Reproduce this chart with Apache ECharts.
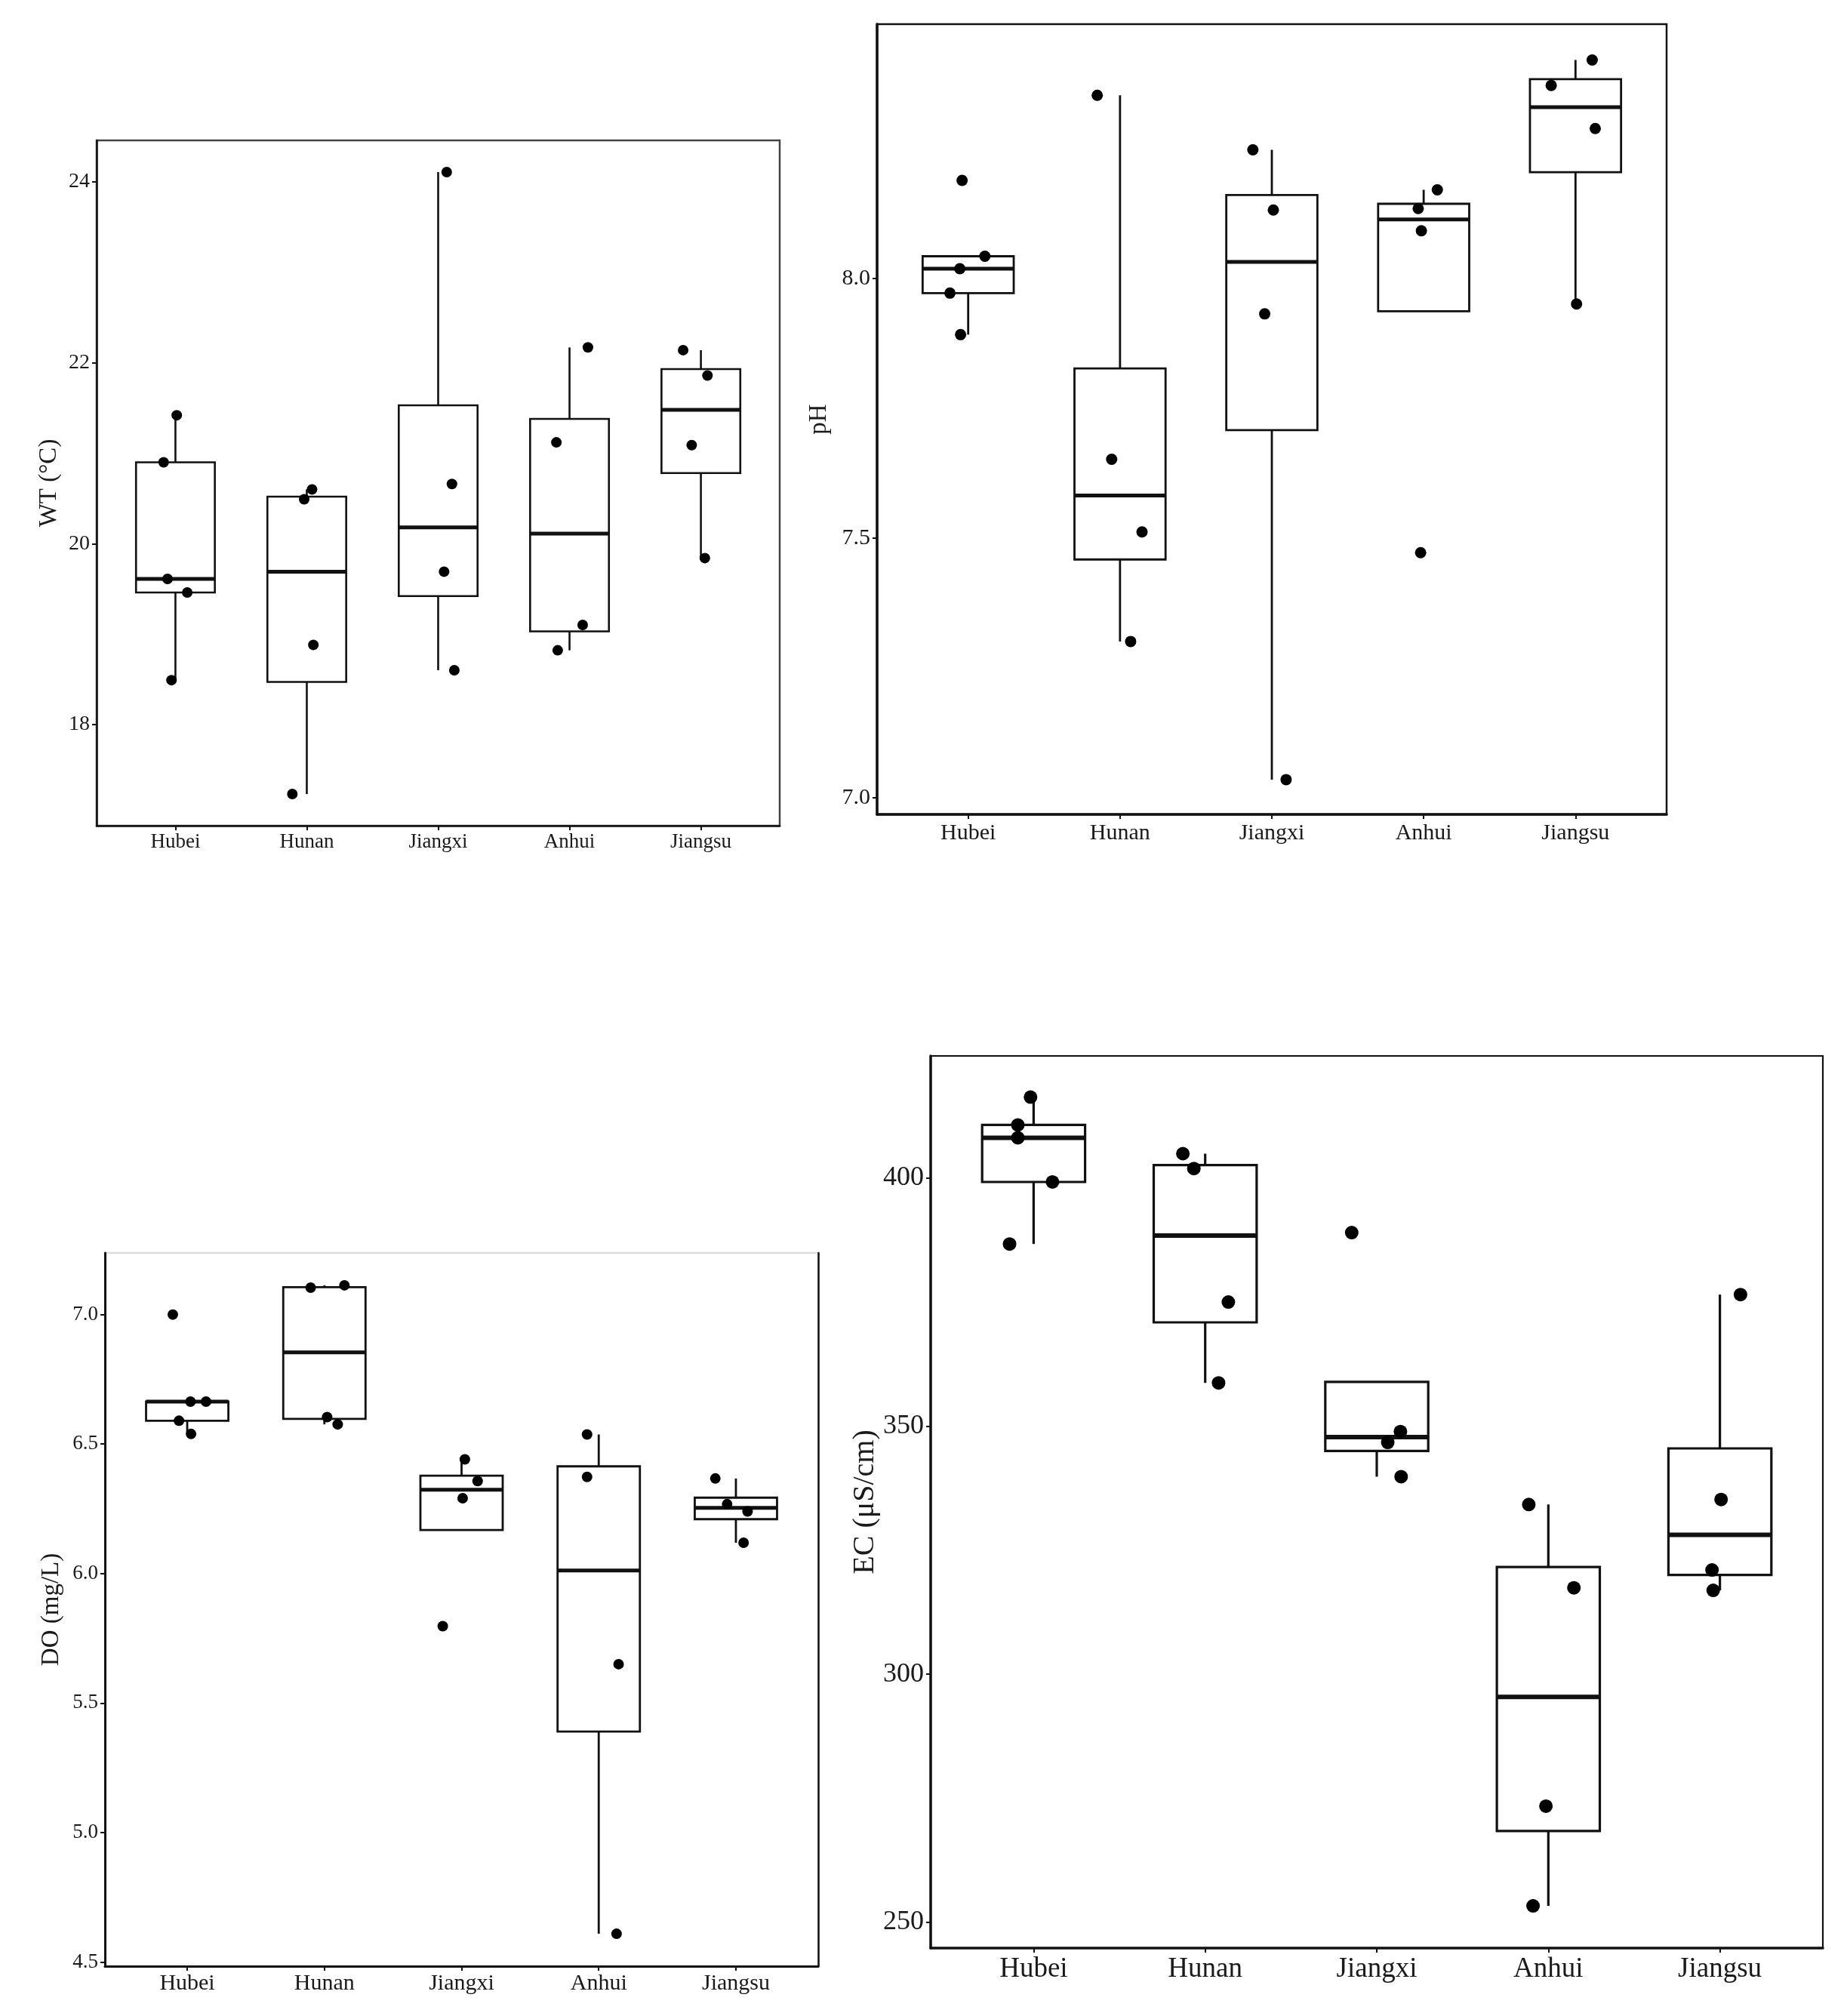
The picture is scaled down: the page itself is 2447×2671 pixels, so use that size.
<!DOCTYPE html>
<html lang="en">
<head>
<meta charset="utf-8">
<title>WT, pH, DO and EC by province</title>
<style>
  html, body { margin: 0; background: #fff; }
  #chart { width: 2447px; height: 2671px; }
</style>
</head>
<body>
<div id="chart"></div>
<script src="https://cdn.jsdelivr.net/npm/echarts@6/dist/echarts.min.js"></script>
<script>
const regions = ['Hubei', 'Hunan', 'Jiangxi', 'Anhui', 'Jiangsu'];

// box stats per province: [lower whisker, Q1, median, Q3, upper whisker]
const wtBox = [
  [18.49, 19.46, 19.61, 20.90, 21.42],
  [17.23, 18.47, 19.69, 20.52, 20.60],
  [18.60, 19.42, 20.18, 21.53, 24.11],
  [18.82, 19.03, 20.11, 21.38, 22.17],
  [19.84, 20.78, 21.48, 21.93, 22.14]
];
const wtPoints = [
  [21.42, 20.90, 19.61, 19.46, 18.49],
  [20.60, 20.49, 18.88, 17.23],
  [24.11, 20.66, 19.69, 18.60],
  [22.17, 21.12, 19.10, 18.82],
  [22.14, 21.86, 21.09, 19.84]
];
const wtJitter = [
  [0.01, -0.09, -0.06, 0.09, -0.03],
  [0.04, -0.02, 0.05, -0.11],
  [0.065, 0.105, 0.045, 0.123],
  [0.14, -0.10, 0.10, -0.09],
  [-0.135, 0.05, -0.07, 0.03]
];

const phBox = [
  [7.892, 7.972, 8.019, 8.043, 8.043],
  [7.301, 7.459, 7.582, 7.827, 8.353],
  [7.035, 7.708, 8.032, 8.161, 8.248],
  [7.937, 7.937, 8.114, 8.144, 8.171],
  [7.951, 8.205, 8.330, 8.384, 8.421]
];
const phPoints = [
  [8.189, 8.043, 8.019, 7.972, 7.892],
  [8.353, 7.652, 7.512, 7.301],
  [8.248, 8.132, 7.932, 7.035],
  [8.171, 8.135, 8.092, 7.472],
  [8.421, 8.372, 8.289, 7.951]
];
const phJitter = [
  [-0.04, 0.11, -0.055, -0.12, -0.05],
  [-0.15, -0.055, 0.145, 0.07],
  [-0.125, 0.01, -0.047, 0.094],
  [0.09, -0.036, -0.015, -0.02],
  [0.11, -0.16, 0.13, 0.007]
];

const doBox = [
  [6.539, 6.590, 6.664, 6.664, 6.664],
  [6.576, 6.597, 6.854, 7.106, 7.113],
  [6.168, 6.168, 6.324, 6.378, 6.441],
  [4.609, 5.390, 6.012, 6.414, 6.537],
  [6.119, 6.210, 6.254, 6.293, 6.367]
];
const doPoints = [
  [7.000, 6.664, 6.664, 6.590, 6.539],
  [7.104, 7.113, 6.604, 6.576],
  [6.441, 6.357, 6.291, 5.797],
  [6.537, 6.373, 5.650, 4.609],
  [6.367, 6.268, 6.240, 6.119]
];
const doJitter = [
  [-0.105, 0.024, 0.137, -0.06, 0.028],
  [-0.10, 0.146, 0.02, 0.097],
  [0.024, 0.117, 0.008, -0.137],
  [-0.085, -0.085, 0.145, 0.13],
  [-0.15, -0.064, 0.085, 0.056]
];

const ecBox = [
  [386.7, 399.2, 408.1, 410.7, 416.3],
  [358.7, 370.9, 388.4, 402.6, 404.9],
  [339.8, 345.0, 347.8, 358.9, 358.9],
  [253.3, 268.4, 295.4, 321.6, 334.2],
  [316.9, 320.0, 328.1, 345.5, 376.5]
];
const ecPoints = [
  [416.3, 410.7, 408.1, 399.2, 386.7],
  [404.9, 401.9, 375.0, 358.7],
  [389.0, 348.9, 346.7, 339.8],
  [334.2, 317.4, 273.4, 253.3],
  [376.5, 335.2, 321.0, 316.9]
];
const ecJitter = [
  [-0.018, -0.092, -0.092, 0.11, -0.14],
  [-0.13, -0.066, 0.135, 0.078],
  [-0.146, 0.138, 0.064, 0.142],
  [-0.114, 0.149, -0.014, -0.089],
  [0.12, 0.007, -0.046, -0.039]
];

const wtTicks = [18, 20, 22, 24];
const phTicks = [7.0, 7.5, 8.0];
const doTicks = [4.5, 5.0, 5.5, 6.0, 6.5, 7.0];
const ecTicks = [250, 300, 350, 400];

const FONT = 'Liberation Serif';
const INK = '#111';

// panel setup: frame, y range, fonts, line weights
const panels = [
  { name: 'WT (°C)', box: wtBox, pts: wtPoints, jit: wtJitter, ticks: wtTicks, dec: 0,
    ymin: 16.88, ymax: 24.46, grid: { left: 128, top: 186, width: 905, height: 908 },
    frame: '#444', axisW: 2.5, frameW: 2.5, tickFont: 28, xFont: 27, nameFont: 33, nameGap: 46,
    xMargin: 8, lineW: 2.6, medW: 5, dot: 14 },
  { name: 'pH', box: phBox, pts: phPoints, jit: phJitter, ticks: phTicks, dec: 1,
    ymin: 6.968, ymax: 8.49, grid: { left: 1162, top: 32, width: 1046, height: 1047 },
    frame: '#111', axisW: 3.5, frameW: 2.5, tickFont: 30, xFont: 30, nameFont: 33, nameGap: 60,
    xMargin: 10, lineW: 2.8, medW: 5, dot: 15 },
  { name: 'DO (mg/L)', box: doBox, pts: doPoints, jit: doJitter, ticks: doTicks, dec: 1,
    ymin: 4.484, ymax: 7.238, grid: { left: 139, top: 1660, width: 945, height: 945 },
    frame: '#ddd', axisW: 3, frameW: 2.5, tickFont: 27, xFont: 30, nameFont: 33, nameGap: 54,
    xMargin: 8, lineW: 2.8, medW: 5, dot: 14, rightLine: true },
  { name: 'EC (μS/cm)', box: ecBox, pts: ecPoints, jit: ecJitter, ticks: ecTicks, dec: 0,
    ymin: 244.8, ymax: 424.6, grid: { left: 1233, top: 1399, width: 1182, height: 1182 },
    frame: '#111', axisW: 3.5, frameW: 2.2, tickFont: 36, xFont: 37, nameFont: 40, nameGap: 40,
    xMargin: 10, lineW: 3.2, medW: 6, dot: 18 }
];

function boxItem(lineW, medW) {
  return function (params, api) {
    const x = api.value(0);
    const pt = k => api.coord([x, api.value(k)]);
    const lo = pt(1), q1 = pt(2), md = pt(3), q3 = pt(4), hi = pt(5);
    const half = api.size([0.6, 0])[0] / 2;
    return {
      type: 'group',
      children: [
        { type: 'line', shape: { x1: hi[0], y1: hi[1], x2: q3[0], y2: q3[1] }, style: { stroke: INK, lineWidth: lineW } },
        { type: 'line', shape: { x1: q1[0], y1: q1[1], x2: lo[0], y2: lo[1] }, style: { stroke: INK, lineWidth: lineW } },
        { type: 'rect', shape: { x: q3[0] - half, y: q3[1], width: half * 2, height: q1[1] - q3[1] },
          style: { fill: '#fff', stroke: INK, lineWidth: lineW } },
        { type: 'line', shape: { x1: md[0] - half, y1: md[1], x2: md[0] + half, y2: md[1] }, style: { stroke: INK, lineWidth: medW } }
      ]
    };
  };
}

const grids = [], xAxes = [], yAxes = [], series = [];
const idx = [0, 1, 2, 3, 4];

panels.forEach((p, g) => {
  grids.push(Object.assign({ show: true, borderColor: p.frame, borderWidth: p.frameW, backgroundColor: '#fff' }, p.grid));

  xAxes.push({
    gridIndex: g, type: 'value', min: -0.6, max: 4.6,
    splitLine: { show: false },
    axisLine: { show: true, onZero: false, lineStyle: { color: INK, width: p.axisW } },
    axisTick: { show: true, length: 6, customValues: idx, lineStyle: { color: INK, width: 2 } },
    axisLabel: { customValues: idx, formatter: v => regions[Math.round(v)], fontFamily: FONT,
      fontSize: p.xFont, color: '#1a1a1a', margin: p.xMargin }
  });

  const yIndex = yAxes.length;
  yAxes.push({
    gridIndex: g, type: 'value', min: p.ymin, max: p.ymax,
    name: p.name, nameLocation: 'middle', nameGap: p.nameGap,
    nameTextStyle: { fontFamily: FONT, fontSize: p.nameFont, color: '#1a1a1a' },
    splitLine: { show: false },
    axisLine: { show: true, onZero: false, lineStyle: { color: INK, width: p.axisW } },
    axisTick: { show: true, length: 6, customValues: p.ticks, lineStyle: { color: INK, width: 2 } },
    axisLabel: { customValues: p.ticks, formatter: v => v.toFixed(p.dec), fontFamily: FONT,
      fontSize: p.tickFont, color: '#1a1a1a', margin: 9 }
  });
  if (p.rightLine) {
    yAxes.push({
      gridIndex: g, type: 'value', position: 'right', min: p.ymin, max: p.ymax,
      axisLine: { show: true, onZero: false, lineStyle: { color: INK, width: p.frameW } },
      axisTick: { show: false }, axisLabel: { show: false }, splitLine: { show: false }
    });
  }

  series.push({
    type: 'custom', xAxisIndex: g, yAxisIndex: yIndex,
    renderItem: boxItem(p.lineW, p.medW),
    dimensions: ['x', 'lo', 'q1', 'md', 'q3', 'hi'],
    encode: { x: 0, y: [1, 2, 3, 4, 5] },
    data: p.box.map((b, i) => [i].concat(b)),
    z: 2, silent: true
  });

  const dots = [];
  p.pts.forEach((vals, i) => vals.forEach((v, j) => dots.push([i + p.jit[i][j], v])));
  series.push({
    type: 'scatter', xAxisIndex: g, yAxisIndex: yIndex,
    symbol: 'circle', symbolSize: p.dot,
    itemStyle: { color: '#000', opacity: 1 },
    data: dots, z: 3, silent: true
  });
});

const myChart = echarts.init(document.getElementById('chart'), null, { renderer: 'canvas' });
myChart.setOption({
  backgroundColor: '#fff',
  animation: false,
  grid: grids,
  xAxis: xAxes,
  yAxis: yAxes,
  series: series
});
</script>
</body>
</html>
